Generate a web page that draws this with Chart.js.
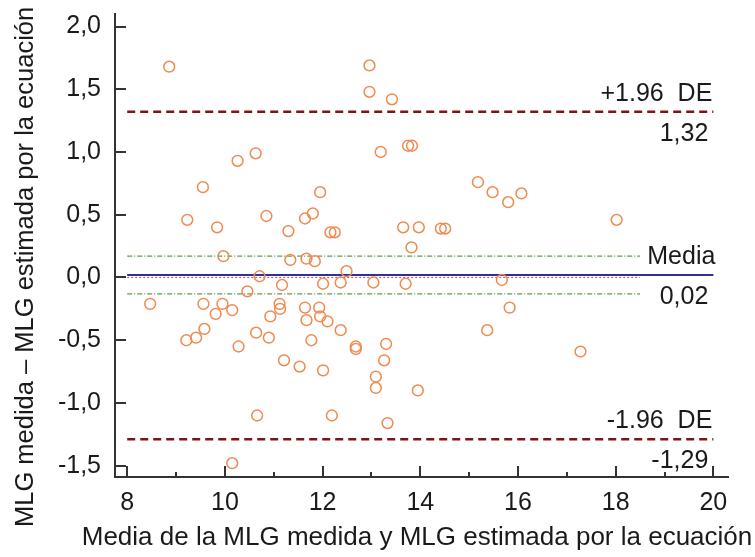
<!DOCTYPE html>
<html>
<head>
<meta charset="utf-8">
<script src="https://cdn.jsdelivr.net/npm/chart.js@4"></script>
<style>
  body { margin: 0; background: #fff; }
  #wrap { width: 755px; height: 557px; }
</style>
</head>
<body>
<div id="wrap"><canvas id="chart"></canvas></div>
<script>
// mean of the two measures (x) and their difference (y)
const xVals = [
  8.86, 10.26, 9.55, 9.23, 9.84, 9.97, 10.63, 11.95, 10.85, 11.30, 11.64, 11.80,
  12.16, 12.25, 11.34, 11.67, 11.84, 12.96, 12.96, 13.42, 13.19, 13.75, 13.83,
  13.65, 13.97, 13.82, 14.42, 14.51, 15.18, 15.48, 15.80, 16.07, 18.02,
  8.47, 9.56, 9.95, 9.81, 10.15, 9.21, 9.41, 9.58, 10.28, 10.15, 10.71, 10.46,
  11.17, 12.01, 12.37, 11.12, 11.13, 10.93, 11.64, 11.93, 11.67, 11.95, 12.10,
  12.37, 10.64, 10.90, 11.77, 11.21, 11.53, 12.01, 10.66, 12.19, 12.49, 13.04,
  13.70, 12.68, 12.68, 13.30, 13.26, 13.09, 13.09, 13.95, 13.33, 15.67, 15.83,
  15.37, 17.28
];
const yVals = [
  1.68, 0.93, 0.72, 0.46, 0.40, 0.17, 0.99, 0.68, 0.49, 0.37, 0.47, 0.51,
  0.36, 0.36, 0.14, 0.15, 0.13, 1.69, 1.48, 1.42, 1.00, 1.05, 1.05,
  0.40, 0.40, 0.24, 0.39, 0.39, 0.76, 0.68, 0.60, 0.67, 0.46,
  -0.21, -0.21, -0.21, -0.29, -0.26, -0.50, -0.48, -0.41, -0.55, -1.48, 0.01, -0.11,
  -0.06, -0.05, -0.04, -0.21, -0.25, -0.31, -0.24, -0.24, -0.34, -0.31, -0.35,
  -0.42, -0.44, -0.48, -0.50, -0.66, -0.71, -0.74, -1.10, -1.10, 0.05, -0.04,
  -0.05, -0.55, -0.57, -0.53, -0.66, -0.79, -0.88, -0.90, -1.16, -0.02, -0.24,
  -0.42, -0.59
];

// reference lines: upper limit, mean, lower limit
const limitValues = [1.32, 0.02, -1.29];
const labelsAbove = ['+1.96  DE', 'Media', '-1.96  DE'];
const labelsBelow = ['1,32', '0,02', '-1,29'];
const meanCI = [0.17, -0.13];
const lineSpan = [8, 20];
const ciSpan = [8, 18.5];

const xTicks = [8, 10, 12, 14, 16, 18, 20];
const xMinorTicks = [9, 11, 13, 15, 17, 19];
const yTicks = [2.0, 1.5, 1.0, 0.5, 0.0, -0.5, -1.0, -1.5];

const xTitle = 'Media de la MLG medida y MLG estimada por la ecuación';
const yTitle = 'MLG medida – MLG estimada por la ecuación';

const FONT = '"Liberation Sans", Arial, sans-serif';
const TEXT = '#1a1a1a';
const AXIS = '#333333';

function hLine(y, span) {
  return span.map(x => ({ x: x, y: y }));
}

const points = xVals.map((x, i) => ({ x: x, y: yVals[i] }));

// inward tick marks, drawn from the scales
const tickMarks = {
  id: 'tickMarks',
  afterDraw(chart) {
    const ctx = chart.ctx;
    const xs = chart.scales.x, ys = chart.scales.y;
    const left = chart.chartArea.left, bottom = chart.chartArea.bottom;
    ctx.save();
    ctx.strokeStyle = AXIS;
    ctx.lineWidth = 2;
    ctx.beginPath();
    xTicks.forEach(v => {
      const px = Math.round(xs.getPixelForValue(v));
      ctx.moveTo(px, bottom); ctx.lineTo(px, bottom - 11);
    });
    xMinorTicks.forEach(v => {
      const px = Math.round(xs.getPixelForValue(v));
      ctx.moveTo(px, bottom); ctx.lineTo(px, bottom - 5);
    });
    yTicks.forEach(v => {
      const py = Math.round(ys.getPixelForValue(v));
      ctx.moveTo(left, py); ctx.lineTo(left + 11, py);
    });
    ctx.stroke();
    ctx.restore();
  }
};

// text beside the reference lines, plus the two axis titles
const lineLabels = {
  id: 'lineLabels',
  afterDatasetsDraw(chart) {
    const ctx = chart.ctx;
    const xs = chart.scales.x, ys = chart.scales.y;
    const right = xs.getPixelForValue(lineSpan[1]) - 1;
    ctx.save();
    ctx.font = '25px ' + FONT;
    ctx.fillStyle = TEXT;
    ctx.textAlign = 'right';
    ctx.textBaseline = 'middle';
    limitValues.forEach((v, i) => {
      const py = ys.getPixelForValue(v);
      ctx.fillText(labelsAbove[i], right + (i === 1 ? 3 : 0), py - 18);
      ctx.fillText(labelsBelow[i], right - 4, py + 22);
    });

    ctx.textBaseline = 'alphabetic';
    ctx.textAlign = 'center';
    ctx.font = '26px ' + FONT;
    ctx.fillText(xTitle, 417, 545);

    ctx.translate(33, 527);
    ctx.rotate(-Math.PI / 2);
    ctx.textAlign = 'left';
    ctx.font = '25.5px ' + FONT;
    ctx.fillText(yTitle, 0, 0);
    ctx.restore();
  }
};

new Chart(document.getElementById('chart'), {
  type: 'scatter',
  data: {
    datasets: [
      {
        data: points,
        pointStyle: 'circle',
        pointRadius: 5.4,
        pointBorderWidth: 1.5,
        pointBorderColor: '#ef8a50',
        pointBackgroundColor: 'rgba(0,0,0,0)'
      },
      {
        data: hLine(limitValues[1], lineSpan),
        showLine: true, pointRadius: 0,
        borderColor: '#30309a', borderWidth: 2
      },
      {
        data: hLine(0, ciSpan),
        showLine: true, pointRadius: 0,
        borderColor: '#e05a5a', borderWidth: 1.2, borderDash: [2, 2]
      },
      {
        data: hLine(meanCI[0], ciSpan),
        showLine: true, pointRadius: 0,
        borderColor: '#5f9a4c', borderWidth: 1.2, borderDash: [5, 2, 1, 2]
      },
      {
        data: hLine(meanCI[1], ciSpan),
        showLine: true, pointRadius: 0,
        borderColor: '#5f9a4c', borderWidth: 1.2, borderDash: [5, 2, 1, 2]
      },
      {
        data: hLine(limitValues[0], lineSpan),
        showLine: true, pointRadius: 0,
        borderColor: '#7e1515', borderWidth: 2.5, borderDash: [8, 5]
      },
      {
        data: hLine(limitValues[2], lineSpan),
        showLine: true, pointRadius: 0,
        borderColor: '#7e1515', borderWidth: 2.5, borderDash: [8, 5]
      }
    ]
  },
  options: {
    responsive: true,
    maintainAspectRatio: false,
    animation: false,
    layout: { padding: { top: 14, right: 27, left: 0, bottom: 0 } },
    plugins: {
      legend: { display: false },
      tooltip: { enabled: false }
    },
    scales: {
      x: {
        type: 'linear',
        min: 7.75,
        max: 20.3,
        afterBuildTicks: s => { s.ticks = xTicks.map(v => ({ value: v })); },
        afterFit: s => { s.height = 80; s.paddingLeft = 0; s.paddingRight = 0; },
        grid: { display: true, drawOnChartArea: false, drawTicks: false },
        border: { display: true, color: AXIS, width: 2 },
        ticks: {
          padding: 11,
          color: TEXT,
          font: { family: FONT, size: 25 },
          maxRotation: 0,
          callback: v => String(v)
        }
      },
      y: {
        type: 'linear',
        min: -1.59,
        max: 2.1,
        afterBuildTicks: s => { s.ticks = yTicks.map(v => ({ value: v })); },
        afterFit: s => { s.width = 115; s.paddingTop = 0; s.paddingBottom = 0; },
        grid: { display: true, drawOnChartArea: false, drawTicks: false },
        border: { display: true, color: AXIS, width: 2 },
        ticks: {
          padding: 14,
          color: TEXT,
          font: { family: FONT, size: 25 },
          callback: v => v.toFixed(1).replace('.', ',')
        }
      }
    }
  },
  plugins: [tickMarks, lineLabels]
});
</script>
</body>
</html>
